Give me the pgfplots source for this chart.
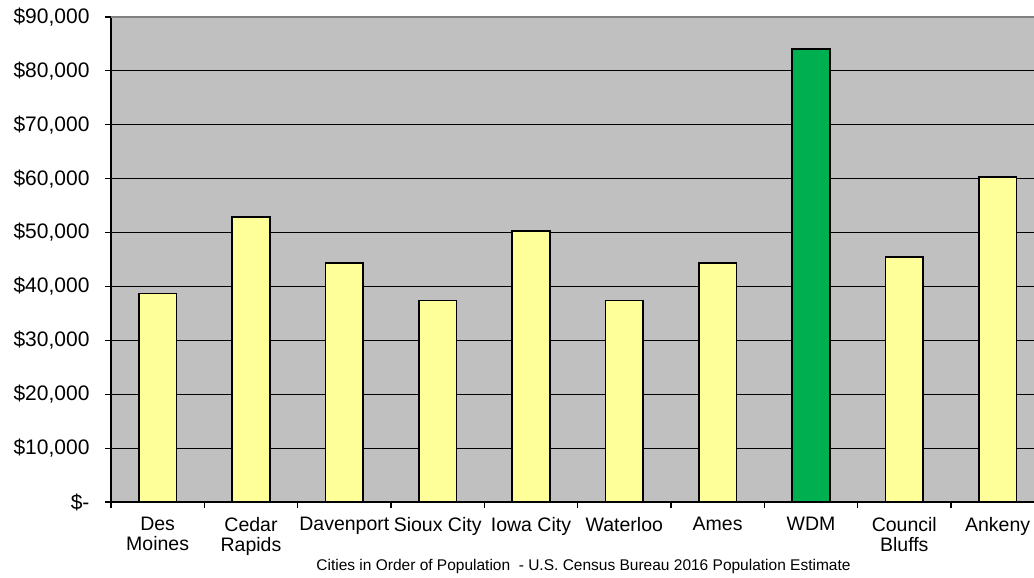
\documentclass[border=0pt]{standalone}
\usepackage{pgfplots}
\pgfplotsset{compat=1.18}
\usepackage{fontspec}
\setmainfont{Liberation Sans}
\definecolor{plotbg}{HTML}{C0C0C0}
\definecolor{baryellow}{HTML}{FFFF99}
\definecolor{bargreen}{HTML}{00B050}
\definecolor{topgray}{HTML}{808080}
\begin{document}
\begin{tikzpicture}
\begin{axis}[
  at={(0,0)}, anchor=south west,
  scale only axis,
  width=923pt, height=485pt,
  xmin=0, xmax=9.89,
  ymin=0, ymax=90000,
  scaled y ticks=false,
  axis background/.style={fill=plotbg},
  axis x line=bottom, axis y line=left,
  axis line style={-, black, line width=1.3pt},
  ybar, bar shift=0pt, bar width=0.405,
  xtick={0.5,1.5,...,9.5},
  xticklabels={{Des\\Moines},{Cedar\\Rapids},Davenport,{Sioux City},{Iowa City},Waterloo,Ames,WDM,{Council\\Bluffs},Ankeny},
  x tick label style={align=center, font=\fontsize{19.5}{20}\selectfont, yshift=-6pt},
  major x tick style={draw=none},
  minor xtick={0,1,...,9},
  minor tick length=6pt,
  minor x tick style={black, line width=1.2pt},
  ytick={0,10000,...,90000},
  yticklabels={\$-,\$10{,}000,\$20{,}000,\$30{,}000,\$40{,}000,\$50{,}000,\$60{,}000,\$70{,}000,\$80{,}000,\$90{,}000},
  y tick label style={font=\fontsize{21}{22}\selectfont, xshift=-12pt},
  major y tick style={black, line width=1.2pt},
  major tick length=6pt,
  tick align=outside,
  ymajorgrids,
  grid style={black, line width=1.2pt},
  xlabel={Cities in Order of Population\ \ - U.S. Census Bureau\ 2016\ Population\ Estimate},
  xlabel style={font=\fontsize{15.5}{16}\selectfont, xshift=11pt, yshift=3pt},
  clip=false,
]
\addplot[fill=baryellow, draw=black, line width=1.7pt] coordinates {
  (0.5,38700) (1.5,52900) (2.5,44400) (3.5,37400) (4.5,50300)
  (5.5,37400) (6.5,44400) (8.5,45400) (9.5,60250)
};
\addplot[fill=bargreen, draw=black, line width=1.7pt] coordinates {
  (7.5,84000)
};
\draw[topgray, line width=1.5pt] (rel axis cs:0,1) -- (rel axis cs:1,1);
\end{axis}
\pgfresetboundingbox
\path[use as bounding box] (-111pt,-76pt) rectangle (923pt,502pt);
\end{tikzpicture}
\end{document}
